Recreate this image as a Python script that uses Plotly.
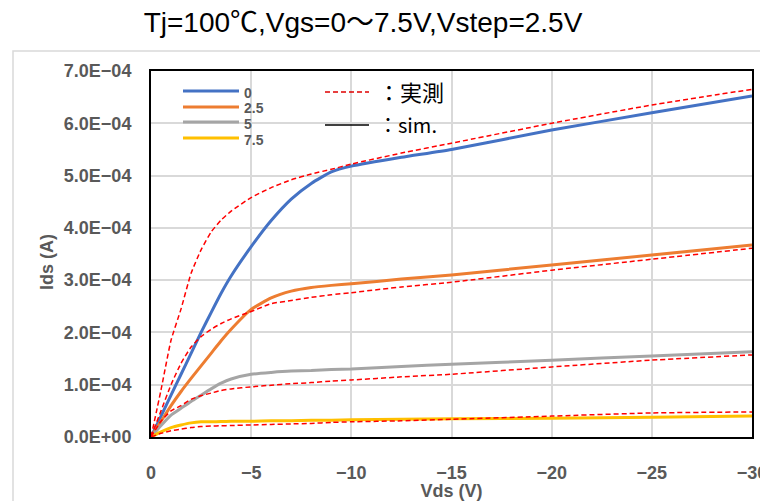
import plotly.graph_objects as go

# ---- data (Vds in V, Ids in units of 1E-4 A) ----
vds = [0, -0.5, -1, -1.5, -2, -2.5, -3, -3.5, -4, -5, -6, -7, -8, -9, -10,
       -12.5, -15, -20, -25, -30]

vgs_labels = ["0", "2.5", "5", "7.5"]

sim_0   = [0, 0.40, 0.80, 1.20, 1.60, 2.00, 2.38, 2.75, 3.08, 3.64, 4.14, 4.55, 4.85, 5.07, 5.18, 5.35, 5.50, 5.87, 6.20, 6.52]
sim_25  = [0, 0.30, 0.60, 0.87, 1.12, 1.36, 1.60, 1.84, 2.06, 2.44, 2.66, 2.79, 2.86, 2.90, 2.93, 3.02, 3.10, 3.29, 3.48, 3.67]
sim_5   = [0, 0.22, 0.42, 0.55, 0.68, 0.80, 0.92, 1.03, 1.11, 1.20, 1.235, 1.26, 1.27, 1.29, 1.30, 1.35, 1.39, 1.47, 1.55, 1.63]
sim_75  = [0, 0.10, 0.18, 0.23, 0.27, 0.29, 0.29, 0.295, 0.30, 0.30, 0.31, 0.31, 0.32, 0.32, 0.33, 0.34, 0.35, 0.36, 0.38, 0.40]

meas_0  = [0, 0.90, 1.85, 2.45, 3.13, 3.58, 3.92, 4.15, 4.32, 4.58, 4.77, 4.92, 5.03, 5.12, 5.22, 5.43, 5.62, 6.00, 6.35, 6.65]
meas_25 = [0, 0.50, 1.00, 1.41, 1.72, 1.92, 2.06, 2.17, 2.26, 2.40, 2.55, 2.61, 2.67, 2.72, 2.76, 2.87, 2.96, 3.19, 3.40, 3.61]
meas_5  = [0, 0.30, 0.50, 0.60, 0.72, 0.79, 0.84, 0.89, 0.92, 0.96, 0.99, 1.02, 1.04, 1.07, 1.09, 1.15, 1.20, 1.34, 1.47, 1.57]
meas_75 = [0, 0.07, 0.12, 0.15, 0.18, 0.20, 0.21, 0.215, 0.22, 0.23, 0.24, 0.25, 0.26, 0.28, 0.29, 0.31, 0.34, 0.40, 0.46, 0.48]

sim_series = [sim_0, sim_25, sim_5, sim_75]
meas_series = [meas_0, meas_25, meas_5, meas_75]
colors = ["#4472C4", "#ED7D31", "#A5A5A5", "#FFC000"]

x_ticks = [0, -5, -10, -15, -20, -25, -30]
y_ticks = [0, 1e-4, 2e-4, 3e-4, 4e-4, 5e-4, 6e-4, 7e-4]
y_ticktext = ["0.0E+00", "1.0E\u221204", "2.0E\u221204", "3.0E\u221204",
              "4.0E\u221204", "5.0E\u221204", "6.0E\u221204", "7.0E\u221204"]

title_text = "Tj=100\u2103,Vgs=0\uff5e7.5V,Vstep=2.5V"

fig = go.Figure()
for lab, ys, col in zip(vgs_labels, sim_series, colors):
    fig.add_trace(go.Scatter(x=vds, y=[v * 1e-4 for v in ys], mode="lines",
                             name=lab, line=dict(color=col, width=3, shape="spline", smoothing=0.5),
                             showlegend=False))
for lab, ys in zip(vgs_labels, meas_series):
    fig.add_trace(go.Scatter(x=vds, y=[v * 1e-4 for v in ys], mode="lines",
                             name="実測 " + lab, line=dict(color="#FF0000", width=1.5, dash="5px,3px",
                                                          shape="spline", smoothing=0.5),
                             showlegend=False))

# plot area: x 151..752, y 71..437 in a 760x501 page
L, R, T, B = 151, 752, 71, 437
W, H = 760, 501
pw, ph = R - L, B - T

def px(xp):
    return (xp - L) / pw

def py(yp):
    return (B - yp) / ph

tick_font = dict(family="Liberation Sans, Arial, sans-serif", size=18, color="#595959")

fig.update_layout(
    width=W, height=H,
    margin=dict(l=L, r=W - R, t=T, b=H - B, autoexpand=False),
    paper_bgcolor="white", plot_bgcolor="white",
    title=dict(text=title_text, x=363 / W, xanchor="center", xref="container",
               y=1 - 22 / H, yanchor="middle", yref="container",
               font=dict(family="Liberation Sans, Noto Sans CJK JP, sans-serif", size=28, color="#000000")),
    xaxis=dict(range=[0, -30], tickvals=x_ticks, showgrid=True, gridcolor="#D9D9D9", gridwidth=1.5,
               zeroline=False, showline=True, linecolor="#000000", linewidth=2, mirror=True,
               ticks="", tickfont=tick_font, ticklabelstandoff=18, ticklabeloverflow="allow",
               automargin=False,
               title=dict(text="<b>Vds (V)</b>", font=dict(family="Liberation Sans, Arial, sans-serif", size=18,
                                                            color="#595959"), standoff=11)),
    yaxis=dict(range=[0, 7e-4], tickvals=y_ticks, ticktext=["<b>%s</b>" % t for t in y_ticktext],
               showgrid=True, gridcolor="#D9D9D9", gridwidth=1.5,
               zeroline=False, showline=True, linecolor="#000000", linewidth=2, mirror=True,
               ticks="", tickfont=tick_font, ticklabelstandoff=14, automargin=False),
)
fig.update_xaxes(ticktext=["<b>%s</b>" % ("0" if v == 0 else "\u2212%d" % (-v)) for v in x_ticks])

# y-axis title (placed slightly below the plot centre as in the reference)
fig.add_annotation(x=px(47), y=py(262), xref="paper", yref="paper", text="<b>Ids (A)</b>",
                   textangle=-90, showarrow=False, xanchor="center", yanchor="middle",
                   font=dict(family="Liberation Sans, Arial, sans-serif", size=18, color="#595959"))

# outer chart border (light gray frame)
fig.add_shape(type="rect", xref="paper", yref="paper", x0=px(13), x1=px(790), y0=py(540), y1=py(51),
              line=dict(color="#D9D9D9", width=1.5), fillcolor="rgba(0,0,0,0)", layer="below")

# legend for Vgs series
leg_y = [91, 107, 122, 138]
for lab, col, yy in zip(vgs_labels, colors, leg_y):
    fig.add_shape(type="line", xref="paper", yref="paper", x0=px(183), x1=px(239), y0=py(yy), y1=py(yy),
                  line=dict(color=col, width=3))
    fig.add_annotation(x=px(242), y=py(yy + 1.5), xref="paper", yref="paper", text="<b>%s</b>" % lab,
                       showarrow=False, xanchor="left", yanchor="middle",
                       font=dict(family="Liberation Sans, Arial, sans-serif", size=14, color="#595959"))

# key for measured / simulated
fig.add_shape(type="line", xref="paper", yref="paper", x0=px(325), x1=px(369), y0=py(92), y1=py(92),
              line=dict(color="#E00000", width=1.5, dash="5px,3px"))
fig.add_annotation(x=px(376), y=py(91), xref="paper", yref="paper", text="\uff1a実測",
                   showarrow=False, xanchor="left", yanchor="middle",
                   font=dict(family="Noto Sans CJK JP, sans-serif", size=22, color="#000000"))
fig.add_shape(type="line", xref="paper", yref="paper", x0=px(325), x1=px(369), y0=py(125), y1=py(125),
              line=dict(color="#000000", width=1.5))
fig.add_annotation(x=px(376), y=py(124), xref="paper", yref="paper", text="\uff1asim.",
                   showarrow=False, xanchor="left", yanchor="middle",
                   font=dict(family="Noto Sans CJK JP, sans-serif", size=20, color="#000000"))

fig.write_html("out.html")
